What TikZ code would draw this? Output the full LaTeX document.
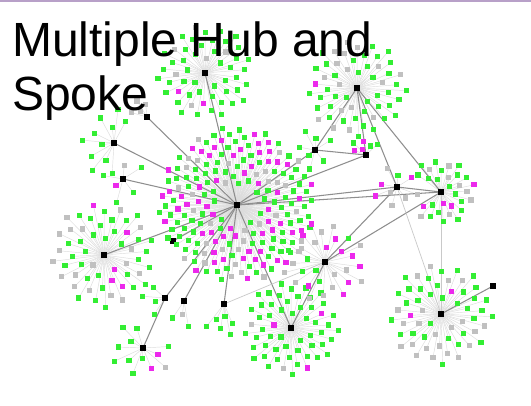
\documentclass[tikz,border=0pt]{standalone}
\usepackage{fontspec}
\setmainfont{Liberation Sans}
\pgfdeclarelayer{backdrop}
\pgfdeclarelayer{spokes}
\pgfdeclarelayer{links}
\pgfsetlayers{backdrop,spokes,links,main}

\definecolor{leafgreen}{RGB}{51,238,51}
\definecolor{leafpink}{RGB}{236,40,236}
\definecolor{leafgray}{RGB}{192,192,192}
\definecolor{spokegray}{RGB}{220,220,220}
\definecolor{linkgray}{RGB}{142,142,142}
\definecolor{topband}{RGB}{184,160,200}
\colorlet{leaf1}{leafgreen}
\colorlet{leaf2}{leafpink}
\colorlet{leaf3}{leafgray}

\tikzset{
  hub/.style={rectangle, fill=black, minimum size=5.5pt, inner sep=0pt},
  leaf/.style={rectangle, minimum size=5.2pt, inner sep=0pt},
  spoke/.style={draw=spokegray, line width=0.45pt},
  link/.style={draw=linkgray, line width=1.05pt},
  faint/.style={draw=spokegray!80!gray, line width=0.7pt},
  title/.style={anchor=base west, inner sep=0pt, font=\fontsize{48}{52}\selectfont}
}

% Leaves of one hub, laid out on a sunflower spiral with an empty core.
% #1 hub name, #2 radius, #3 leaf count, #4 seed, #5 share of green,
% #6 share of magenta, #7 first angle, #8 angular span of the fan
\newcommand{\hubcluster}[8]{%
  \pgfmathsetseed{#4}%
  \foreach \i in {1,...,#3}{%
    \pgfmathsetmacro{\rr}{#2*sqrt(0.07+0.93*(\i-0.5)/#3)}%
    \pgfmathsetmacro{\aa}{#7+mod(\i*0.381966,1)*#8}%
    \pgfmathsetmacro{\uu}{rnd}%
    \pgfmathtruncatemacro{\cc}{\uu<#5 ? 1 : (\uu<#5+#6 ? 2 : 3)}%
    \node[leaf, fill=leaf\cc] (#1-\i) at ([shift={(\aa:\rr)}]#1.center) {};
  }%
}

\begin{document}
\begin{tikzpicture}[x=1pt, y=-1pt]
  \begin{pgfonlayer}{backdrop}
    \path[use as bounding box, fill=white] (0,0) rectangle (531,405);
    \fill[topband] (0,0) rectangle (531,2);
  \end{pgfonlayer}

  % hubs
  \node[hub] (A) at (205,73) {};
  \node[hub] (B) at (357,88) {};
  \node[hub] (C) at (237,205) {};
  \node[hub] (D) at (104,255) {};
  \node[hub] (E) at (441,192) {};
  \node[hub] (F) at (441,314) {};
  \node[hub] (G) at (291,328) {};
  \node[hub] (H) at (143,348) {};
  \node[hub] (I) at (325,262) {};
  \node[hub] (J) at (397,187) {};
  \node[hub] (K) at (366,155) {};
  \node[hub] (L) at (315,150) {};
  \node[hub] (M) at (493,286) {};
  \node[hub] (N) at (147,117) {};
  \node[hub] (O) at (114,143) {};
  \node[hub] (P) at (123,179) {};
  \node[hub] (Q) at (173,241) {};
  \node[hub] (R) at (165,298) {};
  \node[hub] (S) at (184,301) {};
  \node[hub] (T) at (224,304) {};

  % leaves around each hub
  \hubcluster{A}{48}{52}{11}{0.72}{0.05}{0}{360}
  \hubcluster{B}{50}{56}{12}{0.76}{0.04}{0}{360}
  \hubcluster{C}{78}{195}{13}{0.55}{0.30}{0}{360}
  \hubcluster{D}{53}{54}{14}{0.66}{0.06}{0}{360}
  \hubcluster{E}{34}{30}{15}{0.66}{0.12}{-150}{300}
  \hubcluster{F}{52}{56}{16}{0.58}{0.03}{0}{360}
  \hubcluster{G}{48}{56}{17}{0.86}{0.10}{0}{360}
  \hubcluster{H}{32}{12}{18}{0.80}{0.10}{-20}{300}
  \hubcluster{I}{42}{30}{19}{0.40}{0.22}{0}{360}
  \hubcluster{J}{24}{9}{20}{0.40}{0.20}{0}{360}
  \hubcluster{K}{18}{6}{21}{0.50}{0.40}{180}{150}
  \hubcluster{L}{22}{7}{22}{0.50}{0.40}{0}{360}
  \hubcluster{N}{20}{4}{23}{0.0}{0.0}{180}{110}
  \hubcluster{O}{36}{11}{24}{0.95}{0.0}{80}{240}
  \hubcluster{P}{25}{6}{25}{0.30}{0.50}{0}{360}
  \hubcluster{R}{24}{4}{26}{0.40}{0.20}{100}{160}
  \hubcluster{S}{28}{3}{27}{0.40}{0.0}{70}{70}
  \hubcluster{T}{32}{6}{28}{1.0}{0.0}{55}{80}

  % spokes from each hub to its leaves
  \begin{pgfonlayer}{spokes}
    \foreach \h/\n in {A/52, B/56, C/195, D/54, E/30, F/56, G/56, H/12, I/30,
                       J/9, K/6, L/7, N/4, O/11, P/6, R/4, S/3, T/6}
      \foreach \i in {1,...,\n}
        \draw[spoke] (\h.center) -- (\h-\i.center);
  \end{pgfonlayer}

  % hub-to-hub connectors
  \begin{pgfonlayer}{links}
    \foreach \u/\v in {A/C, N/C, O/C, P/C, Q/C, D/C, R/C, H/R, S/C, T/C,
                       G/C, G/I, I/E, I/J, C/E, C/J, C/K, L/C, L/K,
                       B/L, B/K, B/J, B/E, J/E, F/M}
      \draw[link] (\u.center) -- (\v.center);
    \foreach \u/\v in {F/E, F/J, T/I}
      \draw[faint] (\u.center) -- (\v.center);
  \end{pgfonlayer}

  % title
  \node[title] (t1) at (12,56) {Multiple Hub and};
  \node[title] (t2) at (12,110) {Spoke};
\end{tikzpicture}
\end{document}
